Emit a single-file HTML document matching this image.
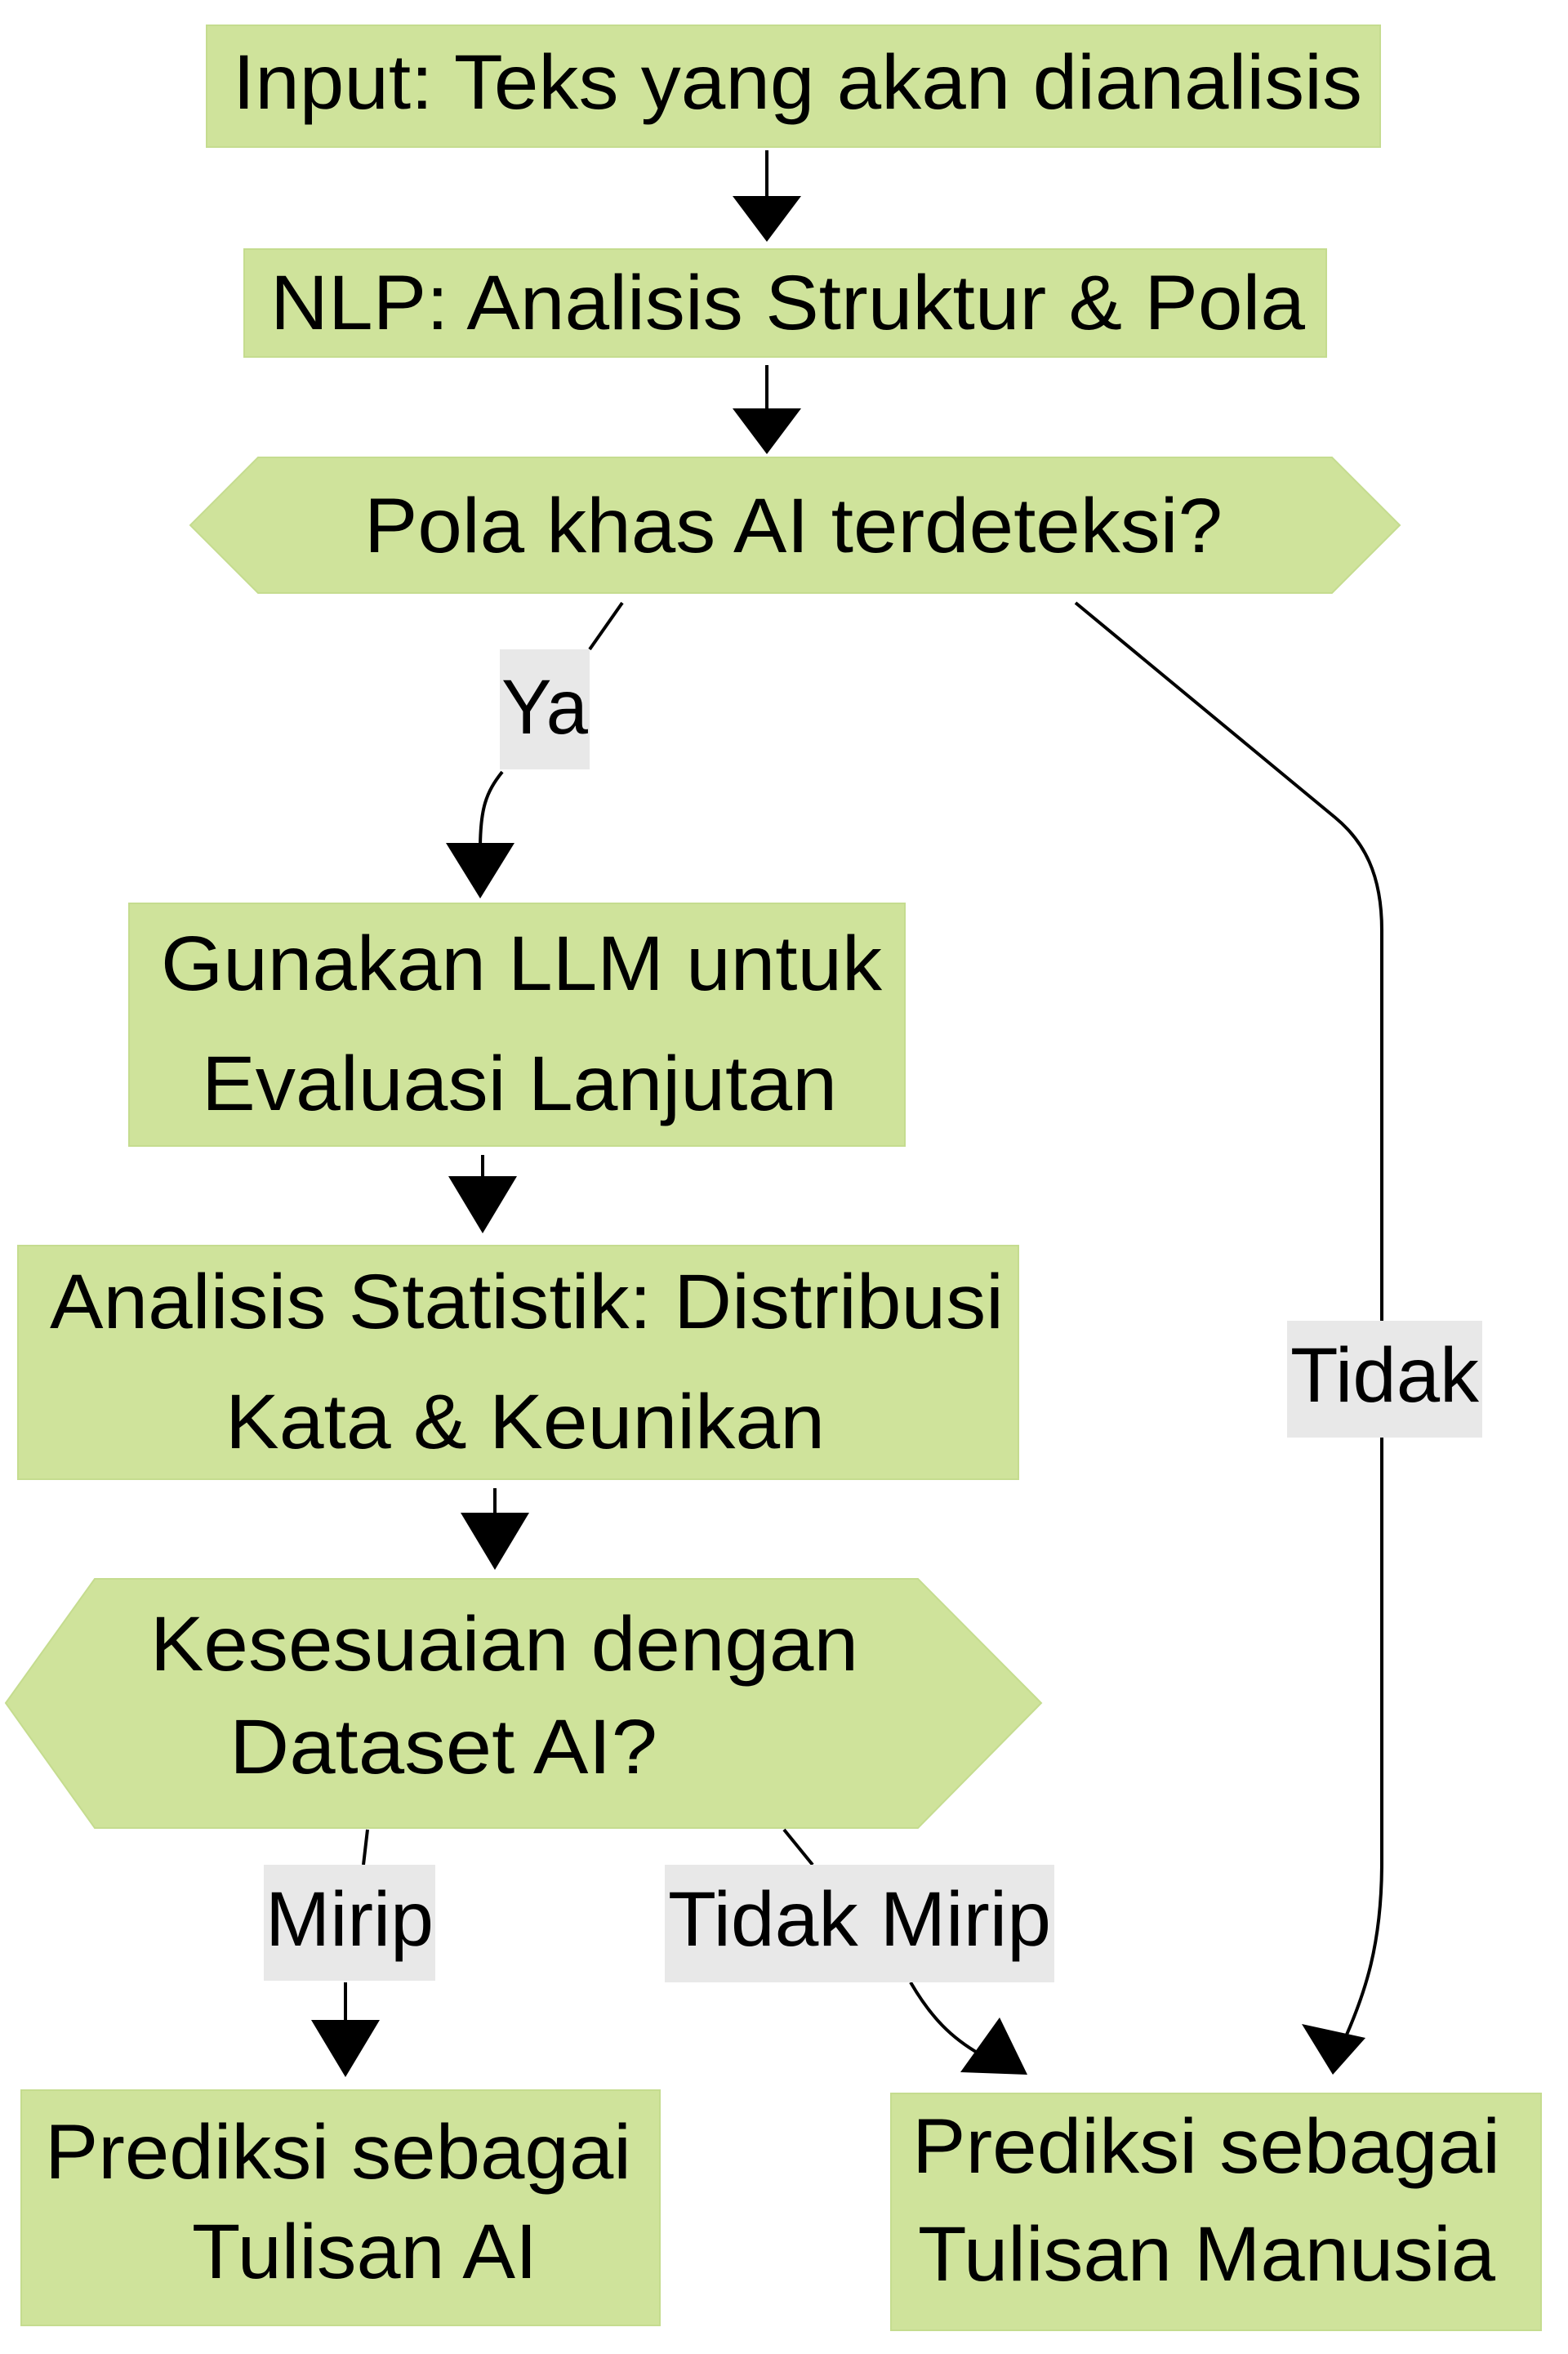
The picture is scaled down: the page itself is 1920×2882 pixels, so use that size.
<!DOCTYPE html>
<html><head><meta charset="utf-8"><style>
html,body{margin:0;padding:0;background:#fff;}
svg{display:block;}
text{font-family:"Liberation Sans",Arial,sans-serif;fill:#000;}
</style></head><body>
<svg width="1920" height="2882" viewBox="0 0 1920 2882" xmlns="http://www.w3.org/2000/svg">
<g fill="#cfe39b" stroke="#c5dc8f" stroke-width="2">
<rect x="253" y="31" width="1437" height="149"/>
<rect x="299" y="305" width="1325" height="132"/>
<polygon points="233,643 316,560 1631,560 1714,643 1631,726 316,726"/>
<rect x="158" y="1106" width="950" height="297"/>
<rect x="22" y="1525" width="1225" height="286"/>
<polygon points="7,2085 116,1933 1124,1933 1275,2085 1124,2238 116,2238"/>
<rect x="26" y="2559" width="782" height="288"/>
<rect x="1091" y="2563" width="796" height="290"/>
</g>
<g stroke="#000" stroke-width="4" fill="none">
<line x1="939" y1="184" x2="939" y2="250"/>
<line x1="939" y1="447" x2="939" y2="510"/>
<path d="M762,738 L722,795"/>
<path d="M615,945 C595,970 588,990 588,1040"/>
<line x1="591" y1="1414" x2="591" y2="1480"/>
<line x1="606" y1="1822" x2="606" y2="1885"/>
<path d="M450,2240 L445,2283"/>
<line x1="423" y1="2427" x2="423" y2="2480"/>
<path d="M960,2240 L995,2283"/>
<path d="M1115,2427 C1140,2470 1165,2495 1200,2515"/>
<path d="M1317,738 L1635,1001 C1670,1030 1692,1070 1692,1139 L1692,1617"/>
<path d="M1692,1760 L1692,2280 C1692,2380 1672,2440 1645,2500"/>
</g>
<g fill="#000">
<polygon points="897,240 981,240 939,296"/>
<polygon points="897,500 981,500 939,556"/>
<polygon points="546,1032 630,1032 588,1100"/>
<polygon points="549,1440 633,1440 591,1510"/>
<polygon points="564,1852 648,1852 606,1922"/>
<polygon points="381,2473 465,2473 423,2543"/>
<polygon points="1176,2537 1224,2470 1258,2540"/>
<polygon points="1594,2478 1672,2495 1632,2540"/>
</g>
<g fill="#e8e8e8">
<rect x="612" y="795" width="110" height="147"/>
<rect x="1576" y="1617" width="239" height="143"/>
<rect x="323" y="2283" width="210" height="142"/>
<rect x="814" y="2283" width="477" height="144"/>
</g>
<g font-size="95">
<text x="285" y="133" textLength="1383" lengthAdjust="spacingAndGlyphs">Input: Teks yang akan dianalisis</text>
<text x="331" y="403" textLength="1267" lengthAdjust="spacingAndGlyphs">NLP: Analisis Struktur &amp; Pola</text>
<text x="446" y="676" textLength="1051" lengthAdjust="spacingAndGlyphs">Pola khas AI terdeteksi?</text>
<text x="197" y="1212" textLength="883" lengthAdjust="spacingAndGlyphs">Gunakan LLM untuk</text>
<text x="247" y="1359" textLength="778" lengthAdjust="spacingAndGlyphs">Evaluasi Lanjutan</text>
<text x="61" y="1626" textLength="1168" lengthAdjust="spacingAndGlyphs">Analisis Statistik: Distribusi</text>
<text x="276" y="1773" textLength="734" lengthAdjust="spacingAndGlyphs">Kata &amp; Keunikan</text>
<text x="184" y="2045" textLength="867" lengthAdjust="spacingAndGlyphs">Kesesuaian dengan</text>
<text x="281" y="2171" textLength="524" lengthAdjust="spacingAndGlyphs">Dataset AI?</text>
<text x="55" y="2667" textLength="718" lengthAdjust="spacingAndGlyphs">Prediksi sebagai</text>
<text x="235" y="2789" textLength="423" lengthAdjust="spacingAndGlyphs">Tulisan AI</text>
<text x="1117" y="2660" textLength="720" lengthAdjust="spacingAndGlyphs">Prediksi sebagai</text>
<text x="1124" y="2792" textLength="707" lengthAdjust="spacingAndGlyphs">Tulisan Manusia</text>
<text x="614" y="898" textLength="106" lengthAdjust="spacingAndGlyphs">Ya</text>
<text x="1580" y="1716" textLength="231" lengthAdjust="spacingAndGlyphs">Tidak</text>
<text x="325" y="2382" textLength="206" lengthAdjust="spacingAndGlyphs">Mirip</text>
<text x="818" y="2382" textLength="469" lengthAdjust="spacingAndGlyphs">Tidak Mirip</text>
</g>
</svg>
</body></html>
